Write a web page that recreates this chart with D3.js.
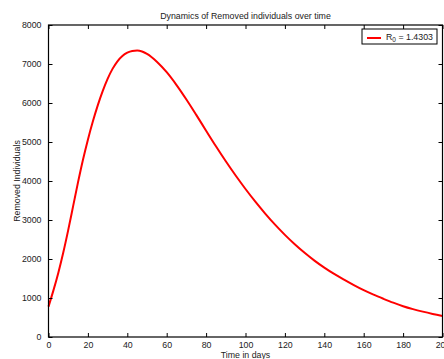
<!DOCTYPE html>
<html>
<head>
<meta charset="utf-8">
<script src="https://cdn.jsdelivr.net/npm/d3@7"></script>
<style>
  body { margin: 0; background: #fff; }
  svg { display: block; font-family: "Liberation Sans", Arial, sans-serif; }
</style>
</head>
<body>
<svg id="chart" width="444" height="359"></svg>
<script>
// values
const days = [0, 2.5, 5, 7.5, 10, 12.5, 15, 17.5, 20, 22.5, 25, 27.5, 30, 32.5, 35, 37.5, 40, 42.5, 45, 47.5, 50,
  55, 60, 65, 70, 75, 80, 85, 90, 95, 100, 105, 110, 115, 120, 125, 130, 135, 140, 145, 150,
  155, 160, 165, 170, 175, 180, 185, 190, 195, 200];
const removed = [780, 1195, 1650, 2165, 2740, 3355, 3970, 4545, 5060, 5525, 5940, 6305, 6620, 6875, 7070, 7205, 7290, 7335, 7345, 7320, 7260,
  7060, 6790, 6460, 6090, 5695, 5290, 4890, 4505, 4140, 3795, 3470, 3165, 2880, 2618, 2378, 2158, 1958, 1778, 1616, 1470,
  1330, 1200, 1085, 980, 880, 790, 715, 650, 592, 540];
const xTicks = [0, 20, 40, 60, 80, 100, 120, 140, 160, 180, 200];
const yTicks = [0, 1000, 2000, 3000, 4000, 5000, 6000, 7000, 8000];
const legendLabel = "1.4303";

const svg = d3.select("#chart");
const mLeft = 48.5, mRight = 442.5, mTop = 25, mBottom = 337;
const fs = "8.8px";

const x = d3.scaleLinear().domain([0, 200]).range([mLeft, mRight]);
const y = d3.scaleLinear().domain([0, 8000]).range([mBottom, mTop]);

// curve
const line = d3.line()
  .x((d, i) => x(days[i]))
  .y((d) => y(d))
  .curve(d3.curveMonotoneX);

svg.append("path")
  .datum(removed)
  .attr("d", line)
  .attr("fill", "none")
  .attr("stroke", "#ff0000")
  .attr("stroke-width", 2);

// axes, MATLAB style with inward ticks on every side
const tickLen = 4;
const fmt = d3.format("d");
svg.append("g")
  .attr("transform", `translate(0,${mBottom})`)
  .call(d3.axisBottom(x).tickValues(xTicks).tickFormat(fmt).tickSizeInner(-tickLen).tickSizeOuter(0).tickPadding(5))
  .call((g) => g.select(".domain").remove());
svg.append("g")
  .attr("transform", `translate(0,${mTop})`)
  .call(d3.axisTop(x).tickValues(xTicks).tickSizeInner(-tickLen).tickSizeOuter(0).tickFormat(""))
  .call((g) => g.select(".domain").remove());
svg.append("g")
  .attr("transform", `translate(${mLeft},0)`)
  .call(d3.axisLeft(y).tickValues(yTicks).tickFormat(fmt).tickSizeInner(-tickLen).tickSizeOuter(0).tickPadding(7))
  .call((g) => g.select(".domain").remove());
svg.append("g")
  .attr("transform", `translate(${mRight},0)`)
  .call(d3.axisRight(y).tickValues(yTicks).tickSizeInner(-tickLen).tickSizeOuter(0).tickFormat(""))
  .call((g) => g.select(".domain").remove());

svg.selectAll(".tick line").attr("stroke", "#000");
svg.selectAll(".tick text")
  .attr("fill", "#222")
  .style("font-family", "'Liberation Sans', Arial, sans-serif")
  .style("font-size", fs);

svg.append("rect")
  .attr("x", mLeft).attr("y", mTop)
  .attr("width", mRight - mLeft).attr("height", mBottom - mTop)
  .attr("fill", "none")
  .attr("stroke", "#000")
  .attr("stroke-width", 1.2);

// title and labels
svg.append("text")
  .attr("x", (mLeft + mRight) / 2).attr("y", 19)
  .attr("text-anchor", "middle")
  .style("font-size", fs)
  .attr("fill", "#222")
  .text("Dynamics of Removed individuals over time");

svg.append("text")
  .attr("x", (mLeft + mRight) / 2).attr("y", 358)
  .attr("text-anchor", "middle")
  .style("font-size", fs)
  .attr("fill", "#222")
  .text("Time in days");

svg.append("text")
  .attr("transform", `translate(20,${(mTop + mBottom) / 2}) rotate(-90)`)
  .attr("text-anchor", "middle")
  .style("font-size", fs)
  .attr("fill", "#222")
  .text("Removed Individuals");

// legend
const lg = svg.append("g").attr("transform", "translate(362,29)");
lg.append("rect")
  .attr("width", 75).attr("height", 15)
  .attr("fill", "#fff")
  .attr("stroke", "#000")
  .attr("stroke-width", 1);
lg.append("line")
  .attr("x1", 5).attr("x2", 19)
  .attr("y1", 9).attr("y2", 9)
  .attr("stroke", "#ff0000")
  .attr("stroke-width", 2);
const lt = lg.append("text")
  .attr("x", 24).attr("y", 10.5)
  .style("font-size", fs)
  .attr("fill", "#222");
lt.append("tspan").text("R");
lt.append("tspan").attr("dy", 2).style("font-size", "6.5px").text("0");
lt.append("tspan").attr("dy", -2).text(" = " + legendLabel);
</script>
</body>
</html>
